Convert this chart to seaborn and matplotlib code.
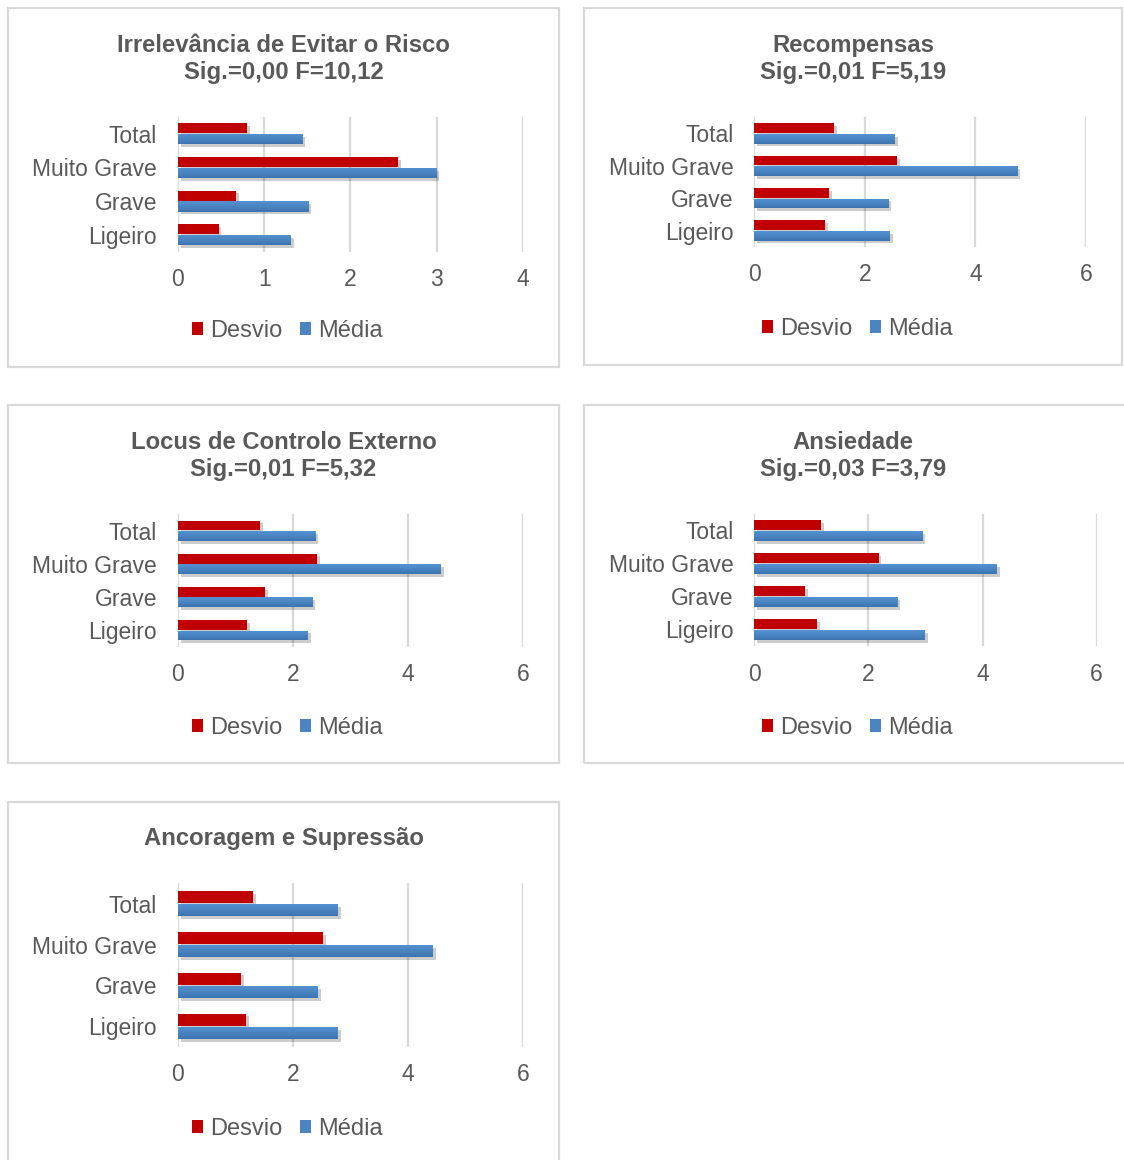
import matplotlib
matplotlib.use("Agg")
import matplotlib.pyplot as plt
import matplotlib.patheffects as pe
from matplotlib.patches import Rectangle, Patch
import numpy as np
import pandas as pd
import seaborn as sns

sns.set_theme(style="white")
plt.rcParams["font.family"] = ["Liberation Sans", "DejaVu Sans"]

# ---- data -------------------------------------------------------------
categorias = ["Total", "Muito Grave", "Grave", "Ligeiro"]
series = ["Desvio", "Média"]

irrelevancia_desvio = [0.80, 2.55, 0.67, 0.47]
irrelevancia_media = [1.44, 3.00, 1.51, 1.31]
recompensas_desvio = [1.45, 2.58, 1.36, 1.28]
recompensas_media = [2.55, 4.76, 2.43, 2.45]
locus_desvio = [1.43, 2.42, 1.51, 1.20]
locus_media = [2.39, 4.57, 2.34, 2.26]
ansiedade_desvio = [1.17, 2.18, 0.89, 1.10]
ansiedade_media = [2.95, 4.25, 2.51, 2.99]
ancoragem_desvio = [1.30, 2.52, 1.10, 1.19]
ancoragem_media = [2.78, 4.43, 2.43, 2.78]

titulos = [
    "Irrelevância de Evitar o Risco\nSig.=0,00 F=10,12",
    "Recompensas\nSig.=0,01 F=5,19",
    "Locus de Controlo Externo\nSig.=0,01 F=5,32",
    "Ansiedade\nSig.=0,03 F=3,79",
    "Ancoragem e Supressão",
]
escalas = [(4, 1), (6, 2), (6, 2), (6, 2), (6, 2)]
valores = [
    (irrelevancia_desvio, irrelevancia_media),
    (recompensas_desvio, recompensas_media),
    (locus_desvio, locus_media),
    (ansiedade_desvio, ansiedade_media),
    (ancoragem_desvio, ancoragem_media),
]

# ---- layout (pixels) ----------------------------------------------------
W, H = 1124, 1160
# panel frame: x0, y0, x1, y1 ; axes: x0, y0, x1, y1 ; title y ; legend y
layout = [
    ((8, 8, 559, 367), (178, 117, 522.7, 251.5), 59, 331),
    ((584, 8, 1122, 365), (754.3, 117.3, 1086, 246.7), 59, 329),
    ((8, 405, 559, 763), (178, 514.3, 523, 646.7), 456, 728),
    ((584, 405, 1130, 763), (754.3, 514, 1096.7, 646), 456, 728),
    ((8, 802, 559, 1170), (178, 883.3, 523, 1046.7), 839, 1129),
]

RED = "#C00000"
BLUE = "#4A85C2"
TXT = "#595959"
GRID = "#D9D9D9"

fig = plt.figure(figsize=(W / 100, H / 100), dpi=100)
fig.patch.set_facecolor("white")


def fx(x):
    return x / W


def fy(y):
    return 1 - y / H


shadow = [pe.SimplePatchShadow(offset=(2, -2), shadow_rgbFace="black", alpha=0.2), pe.Normal()]
grad = np.linspace(0, 1, 64).reshape(-1, 1)
blue_cmap = matplotlib.colors.LinearSegmentedColormap.from_list("blu", ["#5592D2", "#4A85C2", "#3C74B0"])

for (frame, axbox, ty, ly), titulo, (xmax, step), (desv, med) in zip(layout, titulos, escalas, valores):
    # panel frame
    fig.patches.append(Rectangle((fx(frame[0]), fy(frame[3])), fx(frame[2] - frame[0]), (frame[3] - frame[1]) / H,
                                 transform=fig.transFigure, facecolor="none", edgecolor=GRID,
                                 linewidth=1.6, zorder=-1))
    ax = fig.add_axes([fx(axbox[0]), fy(axbox[3]), fx(axbox[2] - axbox[0]), (axbox[3] - axbox[1]) / H])
    df = pd.DataFrame({
        "categoria": categorias * 2,
        "serie": [series[0]] * 4 + [series[1]] * 4,
        "valor": list(desv) + list(med),
    })
    sns.barplot(data=df, y="categoria", x="valor", hue="serie", order=categorias, hue_order=series,
                palette=[RED, BLUE], width=0.65, gap=0.08, orient="h", ax=ax, legend=False,
                saturation=1, linewidth=0, zorder=3)
    for bar in ax.patches:
        bar.set_path_effects(shadow)
        if matplotlib.colors.to_hex(bar.get_facecolor()).upper() == BLUE.upper():
            x0, y0 = bar.get_x(), bar.get_y()
            im = ax.imshow(grad, cmap=blue_cmap, aspect="auto", zorder=4,
                           extent=[x0, x0 + bar.get_width(), y0 + bar.get_height(), y0])
            im.set_clip_path(bar)
    ax.set_ylim(len(categorias) - 0.5, -0.5)
    ax.set_xlim(0, xmax)
    ax.set_xticks(np.arange(0, xmax + step / 2, step))
    ax.set_xticklabels([str(int(v)) for v in np.arange(0, xmax + step / 2, step)])
    ax.set_xlabel("")
    ax.set_ylabel("")
    for s in ["top", "right", "bottom", "left"]:
        ax.spines[s].set_visible(False)
    ax.set_facecolor("none")
    for v in np.arange(0, xmax + step / 2, step):
        ax.axvline(v, color=GRID, linewidth=1.6, zorder=1)
    ax.tick_params(axis="both", length=0, labelsize=16.5, labelcolor=TXT)
    ax.tick_params(axis="x", pad=12)
    ax.tick_params(axis="y", pad=15)

    cx = fx((frame[0] + min(frame[2], 1122)) / 2)
    fig.text(cx, fy(ty), titulo, ha="center", va="center", multialignment="center",
             fontsize=17.2, fontweight="bold", color=TXT, linespacing=1.17)

    handles = [Patch(facecolor=RED, edgecolor="none"), Patch(facecolor=BLUE, edgecolor="none")]
    fig.legend(handles, series, loc="center", bbox_to_anchor=(cx + fx(4), fy(ly)), ncol=2,
               frameon=False, fontsize=17, labelcolor=TXT, handlelength=0.47, handleheight=0.47,
               handletextpad=0.3, columnspacing=0.75, borderaxespad=0)

fig.savefig("out.png", dpi=100, facecolor="white")
